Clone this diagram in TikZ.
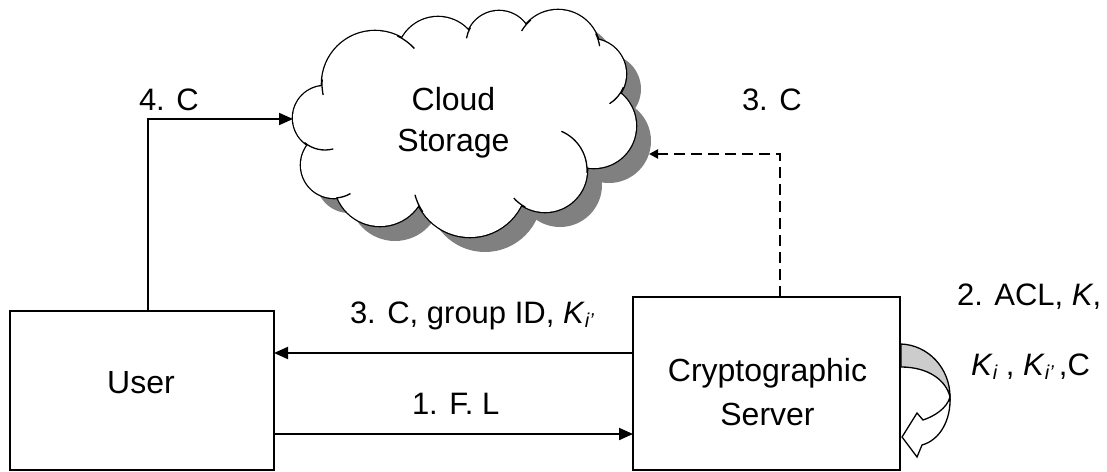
\documentclass[tikz,border=0pt]{standalone}
\usepackage{fontspec}
\setmainfont{Liberation Sans}
\usetikzlibrary{arrows.meta}

% italic K with a lowered italic index
\newcommand{\Ksub}[1]{\textit{K}\raisebox{-4pt}{\fontsize{20}{20}\selectfont\itshape #1}}

% the puffs whose union forms the cloud outline
\newcommand{\cloudpuffs}{%
  (325,118) circle[radius=32]
  (334,165) circle[radius=33]
  (380,180) circle[radius=46]
  (470,180) circle[radius=57]
  (545,170) circle[radius=42]
  (594,126) circle[radius=42]
  (591,74)  circle[radius=35]
  (558,52)  circle[radius=42]
  (499,44)  circle[radius=33]
  (438,58)  circle[radius=41]
  (375,84)  circle[radius=53]
  (460,120) ellipse[x radius=135, y radius=68]}

\begin{document}
\begin{tikzpicture}[x=1pt, y=-1pt,
  every node/.style={inner sep=0pt, outer sep=0pt, font=\fontsize{31}{42}\selectfont},
  big/.style={font=\fontsize{32}{#1}\selectfont},
  box/.style={draw, line width=1.7pt, fill=white},
  arr/.style={line width=2pt, -{Triangle[length=14pt,width=12pt]}},
  dasharr/.style={line width=2pt, dash pattern=on 11pt off 6pt, -{Triangle[length=9pt,width=9pt]}},
  hook/.style={line width=1.3pt}]
\useasboundingbox (0,0) rectangle (1107,471);

% ---- cloud: shadow, outline, body, inner puff hooks
\fill[gray, shift={(15,15)}] \cloudpuffs;
\draw[line width=2.6pt] \cloudpuffs;
\fill[white] \cloudpuffs;
\draw[hook] (375,84) ++(185:53) arc[start angle=185, end angle=168, radius=53];
\draw[hook] (375,84) ++(295:53) arc[start angle=295, end angle=318, radius=53];
\draw[hook] (499,44) ++(210:33) arc[start angle=210, end angle=190, radius=33];
\draw[hook] (558,52) ++(230:42) arc[start angle=230, end angle=210, radius=42];
\draw[hook] (558,52) ++(334:42) arc[start angle=334, end angle=352, radius=42];
\draw[hook] (591,74) ++(22:35) arc[start angle=22, end angle=58, radius=35];
\draw[hook] (545,170) ++(4:42) arc[start angle=4, end angle=-67, radius=42];
\draw[hook] (545,170) ++(118:42) arc[start angle=118, end angle=138, radius=42];
\draw[hook] (470,180) ++(146:57) arc[start angle=146, end angle=165, radius=57];
\draw[hook] (334,165) ++(86:33) arc[start angle=86, end angle=60, radius=33];
\draw[hook] (325,118) ++(130:32) arc[start angle=130, end angle=75, radius=32];
\node[anchor=base, align=center, big=41.7] (cloudtext) at (453.5,151.7) {Cloud\\Storage};
\coordinate (cloudW) at (293,119);
\coordinate (cloudE) at (649,154);

% ---- boxes
\node[box, minimum width=264pt, minimum height=159pt] (user) at (142,390.5) {};
\node[anchor=base, big=42] (usertext) at (141,393) {User};
\node[box, minimum width=267pt, minimum height=173pt] (crypto) at (766.5,383.5) {};
\node[anchor=base, align=center, big=44] (cryptotext) at (767.5,425.7) {Cryptographic\\Server};

% ---- connectors
\coordinate (c3) at ([yshift=30.5pt]crypto.west);
\coordinate (c1) at ([yshift=-43.5pt]user.east);
\draw[arr] (c3) -- (c3 -| user.east);
\draw[arr] (c1) -- (c1 -| crypto.west);
\draw[arr] ([xshift=6pt]user.north) |- (cloudW);
\draw[dasharr] ([xshift=13.5pt]crypto.north) |- (cloudE);

% ---- self loop on the server
\filldraw[fill=gray!40, line width=1.3pt]
  (901,344) .. controls (928,345) and (950,368) .. (950,397)
  .. controls (946,380) and (928,367) .. (901,367) -- cycle;
\filldraw[fill=white, line width=1.3pt]
  (950,397) .. controls (951,420) and (940,440) .. (922,445)
  -- (917,457) -- (902,437) -- (917,413) -- (923,420)
  .. controls (935,416) and (947,408) .. (950,397) -- cycle;

% ---- labels
\node[anchor=base west] (lab3) at (350,323) {3. C, group ID, \Ksub{i’}};
\node[anchor=base west] (lab1) at (412,414) {1. F. L};
\node[anchor=base west] (lab4) at (139,110) {4. C};
\node[anchor=base west] (lab3b) at (742,110) {3. C};
\node[anchor=base west] (lab2a) at (957,305) {2. ACL, \textit{K},};
\node[anchor=base west] (lab2b) at (971,375) {\Ksub{i} , \Ksub{i’}\,,C};
\end{tikzpicture}
\end{document}
